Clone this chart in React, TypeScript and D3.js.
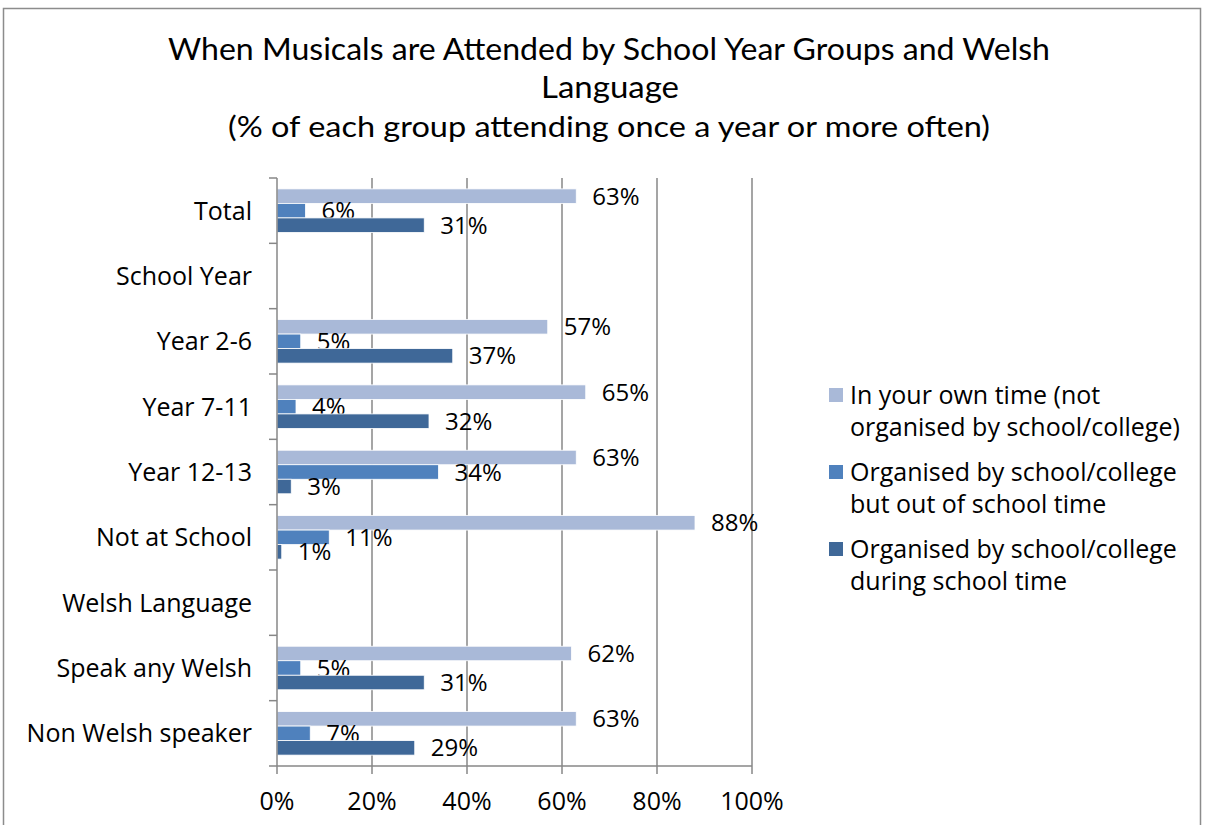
import React from "react";
import * as d3 from "d3";

const categories = [
  "Total",
  "School Year",
  "Year 2-6",
  "Year 7-11",
  "Year 12-13",
  "Not at School",
  "Welsh Language",
  "Speak any Welsh",
  "Non Welsh speaker",
];

const seriesNames = [
  ["In your own time (not", "organised by school/college)"],
  ["Organised by school/college", "but out of school time"],
  ["Organised by school/college", "during school time"],
];

const ownTime: (number | null)[] = [63, null, 57, 65, 63, 88, null, 62, 63];
const outOfSchool: (number | null)[] = [6, null, 5, 4, 34, 11, null, 5, 7];
const duringSchool: (number | null)[] = [31, null, 37, 32, 3, 1, null, 31, 29];

const seriesValues = [ownTime, outOfSchool, duringSchool];
const seriesColors = ["#A9B9D8", "#4F81BD", "#3F6898"];

const xTicks = [0, 20, 40, 60, 80, 100];

const TITLE_FONT = "Lato, 'Open Sans', sans-serif";
const FONT = "'Open Sans', Lato, sans-serif";

export default function App() {
  const W = 1210;
  const H = 825;
  const left = 277;
  const right = 752;
  const top = 178;
  const bottom = 766;

  const x = d3.scaleLinear().domain([0, 100]).range([left, right]);
  const y = d3.scaleBand<string>().domain(categories).range([top, bottom]).paddingInner(0).paddingOuter(0);
  const bw = y.bandwidth();
  const barH = bw / 4.5;
  const groupOffset = (bw - barH * 3) / 2;

  const axisColor = "#878787";

  return (
    <svg
      width={W}
      height={H}
      style={{ position: "absolute", left: 0, top: 0, background: "#fff" }}
    >
      <rect x={0} y={0} width={W} height={H} fill="#fff" />
      {/* chart frame */}
      <path d={`M3.5,${H} V8.5 H1200.5 V${H}`} fill="none" stroke="#8c8c8c" strokeWidth={1.5} />

      {/* title */}
      <text x={609} y={60} textAnchor="middle" fontFamily={TITLE_FONT} fontSize={30} fill="#000" textLength={882} lengthAdjust="spacingAndGlyphs">
        When Musicals are Attended by School Year Groups and Welsh
      </text>
      <text x={610} y={98} textAnchor="middle" fontFamily={TITLE_FONT} fontSize={30} fill="#000" textLength={138} lengthAdjust="spacingAndGlyphs">
        Language
      </text>
      <text x={609} y={137} textAnchor="middle" fontFamily={TITLE_FONT} fontSize={28} fill="#000" textLength={762} lengthAdjust="spacingAndGlyphs">
        (% of each group attending once a year or more often)
      </text>

      {/* gridlines */}
      {xTicks.slice(1).map((t) => (
        <line key={t} x1={x(t)} x2={x(t)} y1={top} y2={bottom} stroke={axisColor} strokeWidth={1.5} />
      ))}

      {/* bars */}
      {categories.map((c, ci) =>
        seriesValues.map((vals, si) => {
          const v = vals[ci];
          if (v === null) return null;
          const by = (y(c) as number) + groupOffset + si * barH;
          return (
            <g key={c + si}>
              <rect x={x(0)} y={by} width={x(v) - x(0)} height={barH} fill={seriesColors[si]} stroke="#fff" strokeWidth={0.8} />
              <text x={x(v) + 16} y={by + barH / 2} dy="0.36em" fontFamily={FONT} fontSize={24} fill="#000">
                {v}%
              </text>
            </g>
          );
        })
      )}

      {/* y axis */}
      <line x1={left} x2={left} y1={top} y2={bottom} stroke={axisColor} strokeWidth={1.5} />
      {d3.range(categories.length + 1).map((i) => {
        const yy = top + i * bw;
        return <line key={i} x1={left - 8} x2={left} y1={yy} y2={yy} stroke={axisColor} strokeWidth={1.5} />;
      })}
      {categories.map((c) => (
        <text key={c} x={252} y={(y(c) as number) + bw / 2} dy="0.36em" textAnchor="end" fontFamily={FONT} fontSize={25} fill="#000">
          {c}
        </text>
      ))}

      {/* x axis */}
      <line x1={left} x2={right} y1={bottom} y2={bottom} stroke={axisColor} strokeWidth={1.5} />
      {xTicks.map((t) => (
        <g key={t}>
          <line x1={x(t)} x2={x(t)} y1={bottom} y2={bottom + 8} stroke={axisColor} strokeWidth={1.5} />
          <text x={x(t)} y={801} dy="0.36em" textAnchor="middle" fontFamily={FONT} fontSize={25} fill="#000">
            {t}%
          </text>
        </g>
      ))}

      {/* legend */}
      {seriesNames.map((lines, i) => {
        const ly = 395 + i * 77;
        return (
          <g key={i}>
            <rect x={829} y={ly - 7} width={14} height={14} fill={seriesColors[i]} />
            {lines.map((ln, j) => (
              <text key={j} x={850} y={ly + j * 32} dy="0.36em" fontFamily={FONT} fontSize={25} fill="#000">
                {ln}
              </text>
            ))}
          </g>
        );
      })}
    </svg>
  );
}
